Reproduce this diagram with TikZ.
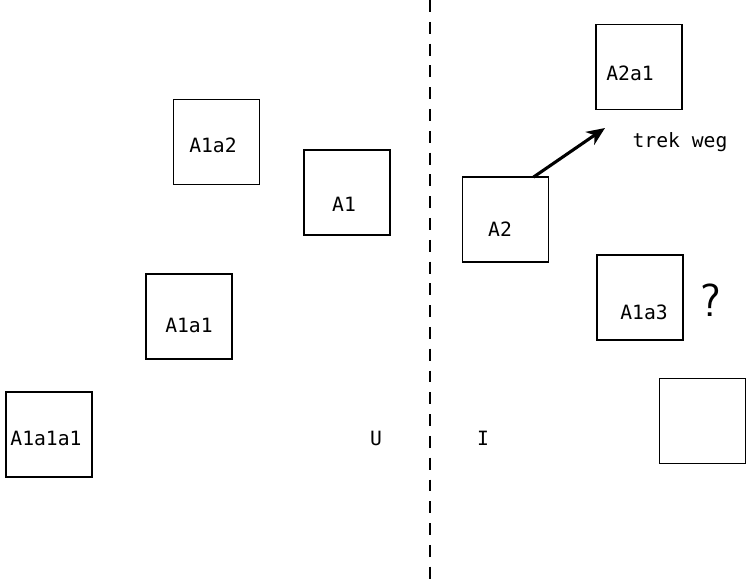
\documentclass[tikz,border=0pt]{standalone}
\usepackage{fontspec}
\setmonofont{DejaVu Sans Mono}
\usetikzlibrary{arrows.meta,positioning}

\begin{document}
\begin{tikzpicture}[
  x=0.025cm, y=-0.025cm,
  box/.style={draw, line width=1pt, minimum width=2.14cm, minimum height=2.12cm, inner sep=0pt, outer sep=0pt},
  lbl/.style={font=\ttfamily\fontsize{14}{16}\selectfont, inner sep=0pt},
  arr/.style={-{Stealth[length=13pt,width=11pt,inset=4pt]}, line width=2.2pt},
  divider/.style={line width=1.2pt, dash pattern=on 8.5pt off 7pt}
]
\useasboundingbox (0,0) rectangle (746,582);

% Left side (U)
\node[box] (a1a2) at (216.5,142) {};
\node[lbl] (t-a1a2) at (213,145) {A1a2};
\node[box] (a1) at (347,192.5) {};
\node[lbl] (t-a1) at (344,204) {A1};
\node[box] (a1a1) at (189,316.5) {};
\node[lbl] (t-a1a1) at (189,325) {A1a1};
\node[box] (a1a1a1) at (49,434.5) {};
\node[lbl] (t-a1a1a1) at (46,438) {A1a1a1};
\node[lbl] (u) at (376,438) {U};

% Divider
\coordinate (top) at (430,0);
\coordinate (bottom) at (430,582);
\draw[divider] (top) -- (bottom);

% Right side (I)
\node[lbl] (i) at (483,438) {I};
\node[box] (a2a1) at (639,67) {};
\node[lbl] (t-a2a1) at (630,73) {A2a1};
\node[box] (a2) at (505.5,219.5) {};
\node[lbl] (t-a2) at (500,229) {A2};
\coordinate (tip) at (605,128);
\draw[arr] ([xshift=0.7cm]a2.north) -- (tip);
\node[lbl] (trek) at (680,142) {trek weg};
\node[box] (a1a3) at (640,297.5) {};
\node[lbl] (t-a1a3) at (644,312) {A1a3};
\node[font=\sffamily\fontsize{33}{34}\selectfont, inner sep=0pt] (q) at (711,300) {?};
\node[box] (empty) at (702.5,421) {};
\end{tikzpicture}
\end{document}
